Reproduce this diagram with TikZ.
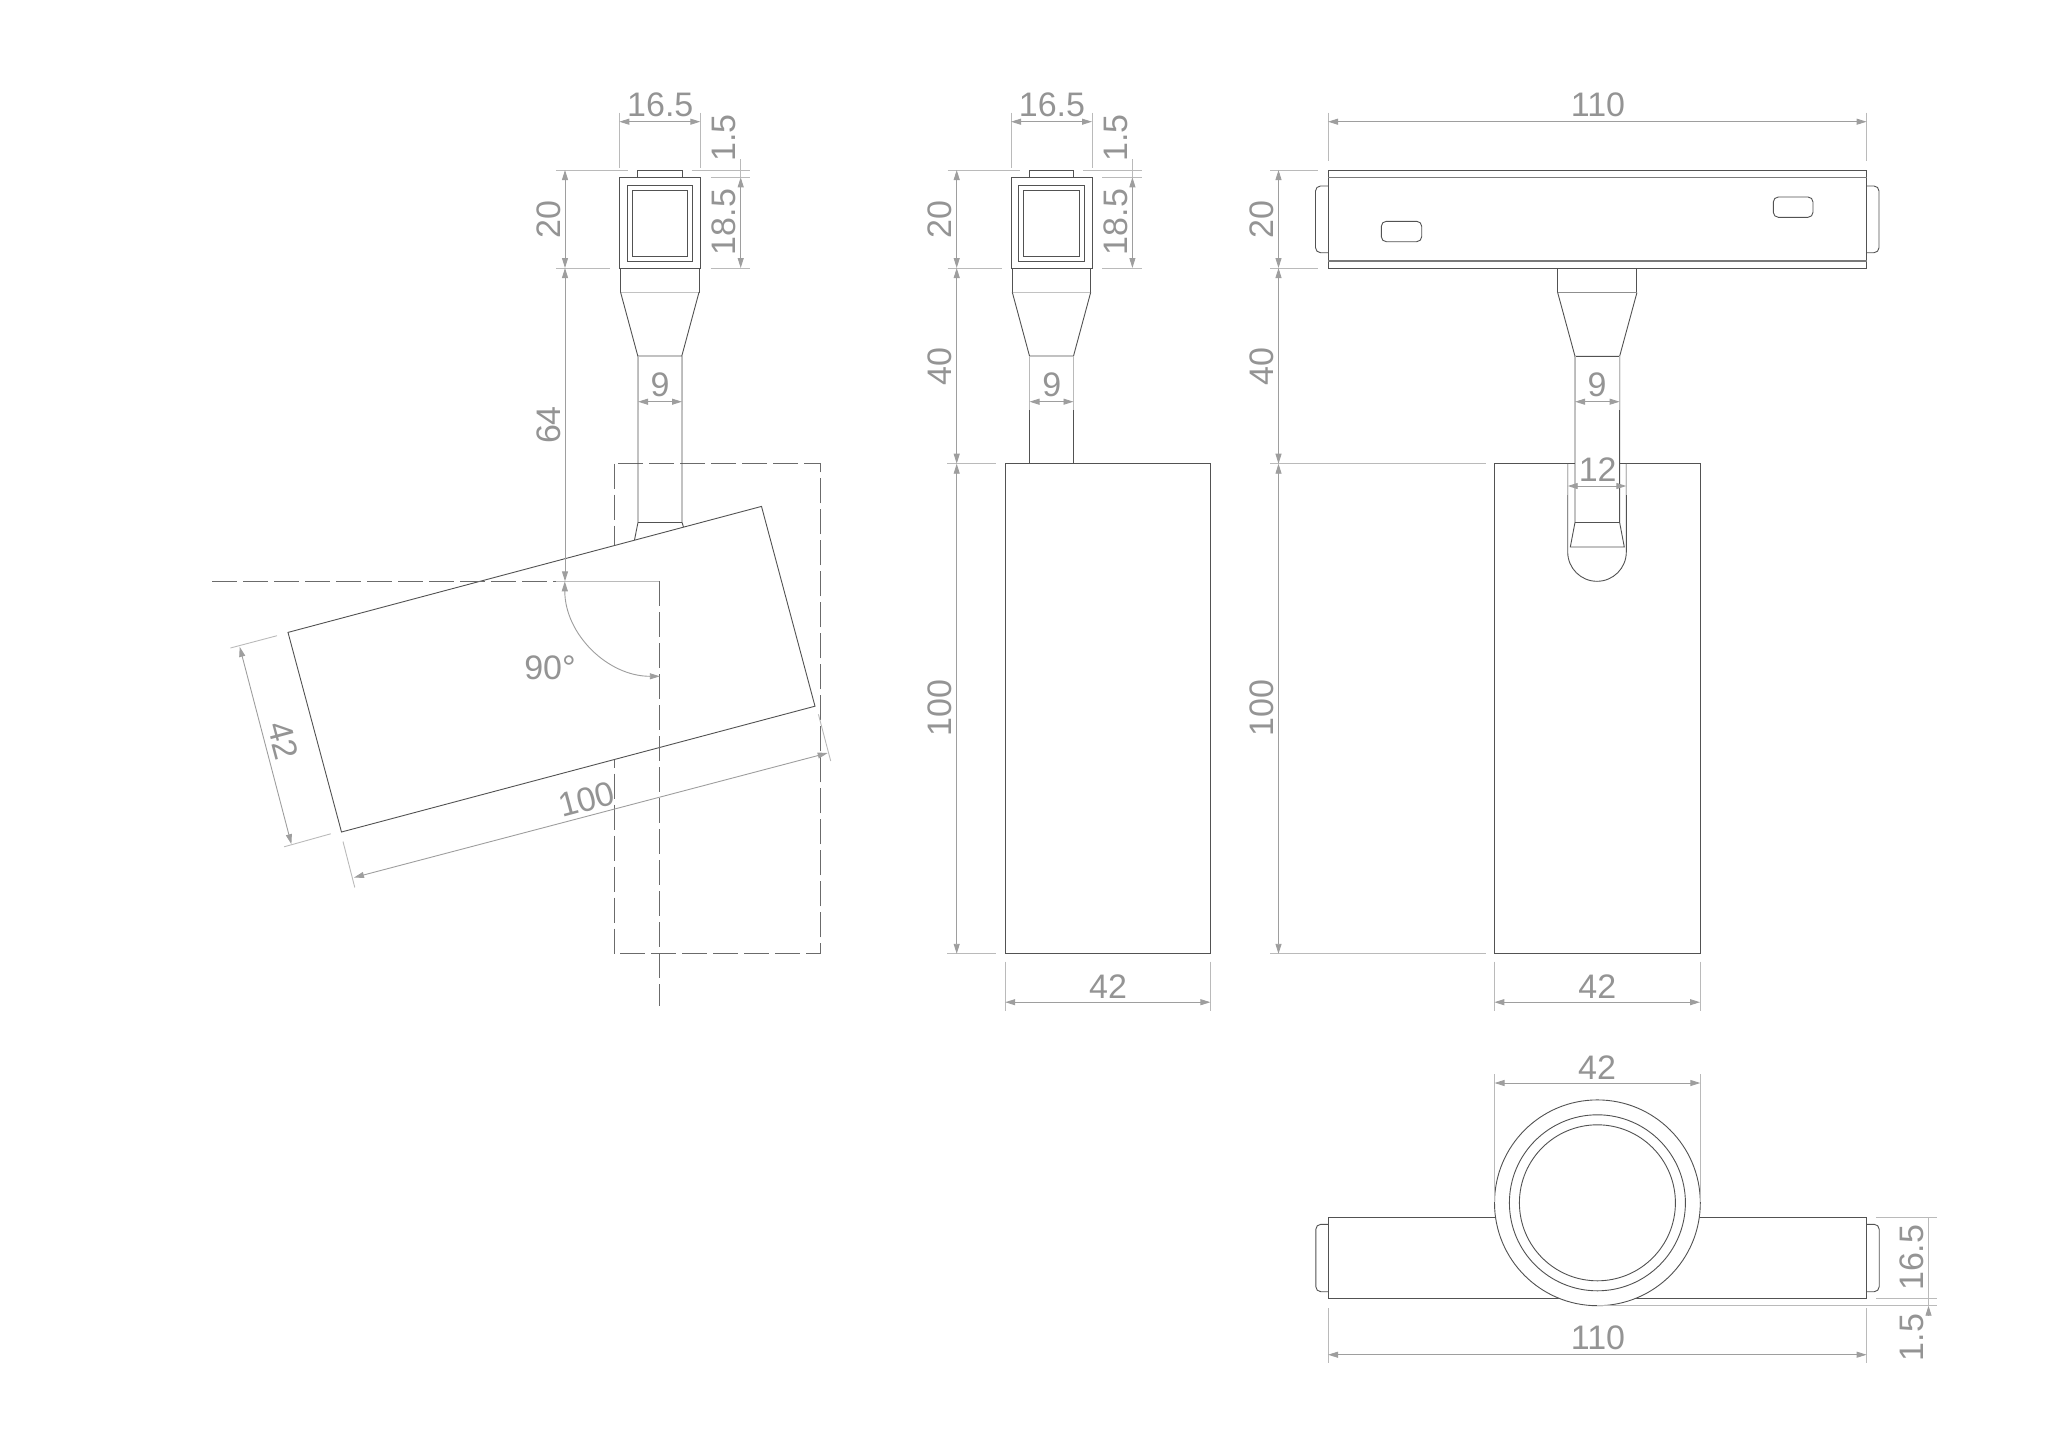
\documentclass[tikz,border=0pt]{standalone}
\usepackage{fontspec}
\setmainfont{Liberation Sans}
\usetikzlibrary{arrows.meta}

\begin{document}
\begin{tikzpicture}[x=1pt,y=-1pt,>={Triangle[length=10pt,width=6pt]},
                    outline/.style={draw=black!68,line width=0.9pt,fill=white,line join=miter},
                    heavy line/.style={draw=black!52,line width=1.8pt},
                    hidden line/.style={draw=black!58,line width=0.9pt,dash pattern=on 25pt off 6pt},
                    ext line/.style={draw=black!27,line width=0.9pt},
                    dim line/.style={draw=black!26,line width=0.9pt,<->,color=black!38},
                    dim text/.style={text=black!42,font=\fontsize{34}{38}\selectfont,inner sep=0pt}]

  \useasboundingbox (0,0) rectangle (2048,1448);

  % swung position, hidden outline first
  \draw[hidden line] (614.1,463.7) rectangle (820.5,953.8);

  % side views, same head twice
  \foreach \cx/\nm in {659.8/a,1051.5/b} {
    \begin{scope}[shift={(\cx,0)}]
      \draw[outline] (-22.2,170) rectangle (22.2,177.3);
      \draw[outline] (-40.5,177.3) rectangle (40.5,268);
      \draw[outline] (-32.8,185.3) rectangle (32.8,261.3);
      \draw[outline] (-27.8,190) rectangle (27.8,256.3);
      \draw[outline] (-39.2,268) rectangle (39.2,292.3);
      \draw[outline] (-39.2,292.3) -- (-22,356) -- (22,356) -- (39.2,292.3);

      % dimensions of the head
      \draw[ext line] (-40.5,112.7) -- (-40.5,167.7);
      \draw[ext line] (40.5,112.7) -- (40.5,167.7);
      \draw[dim line] (-40.5,121.7) -- (40.5,121.7);
      \node[dim text] (w\nm) at (0.5,104.7) {16.5};
      \draw[ext line] (-104,170) -- (-31.5,170);
      \draw[ext line] (-104,268) -- (-49.8,268);
      \draw[ext line] (31.9,170) -- (90.2,170);
      \draw[ext line] (50.9,177.3) -- (90.2,177.3);
      \draw[ext line] (50.9,268) -- (90.2,268);
      \draw[dim line] (-94.8,170) -- (-94.8,268);
      \node[dim text,rotate=90] (h\nm) at (-111.5,219.3) {20};
      \draw[ext line] (80.9,159) -- (80.9,177.3);
      \draw[dim line] (80.9,177.3) -- (80.9,268);
      \node[dim text,rotate=90] (c\nm) at (64.2,138) {1.5};
      \node[dim text,rotate=90] (d\nm) at (64.2,222) {18.5};
      \node[dim text] (s\nm) at (0.2,385) {9};
    \end{scope}
  }

  % left view: stem and tilted body
  \draw[outline,fill=none] (638,356) -- (638,522.3) -- (634.3,541);
  \draw[outline,fill=none] (682,356) -- (682,522.3) -- (683.5,527);
  \draw[outline] (638,522.3) -- (682,522.3);
  \draw[ext line] (638,356) -- (638,410);
  \draw[ext line] (682,356) -- (682,410);
  \draw[dim line] (638,401.7) -- (682,401.7);
  \draw[outline] (288,632.4) -- (761.5,506.4) -- (815,706.2) -- (341.5,832) -- cycle;
  \draw[hidden line] (212,581.3) -- (556,581.3);
  \draw[ext line] (556,581.3) -- (659.8,581.3);
  \draw[hidden line] (659.8,581.3) -- (659.8,1006.2);
  \draw[dim line] (565,268) -- (565,581.3);
  \node[dim text,rotate=90] (htotal) at (548.3,425) {64};
  \draw[dim line] (564.8,581.3) arc[start angle=180,end angle=270,radius=95pt];
  \node[dim text] (angle) at (550,667.5) {90°};

  \draw[ext line] (230.4,648) -- (277,635.7);
  \draw[ext line] (284.1,846.8) -- (330.7,833.8);
  \draw[dim line] (239.7,646.8) -- (291.4,844.2);
  \node[dim text,rotate=-75] (tiltw) at (283.4,740.7) {42};
  \draw[ext line] (343,841.5) -- (354.8,887.5);
  \draw[ext line] (818.4,714.3) -- (830.7,761);
  \draw[dim line] (354,877.5) -- (827.7,753);
  \node[dim text,rotate=15] (tiltl) at (586.6,799.3) {100};

  % middle view
  \draw[outline,fill=none] (1029.5,356) -- (1029.5,463.7);
  \draw[outline,fill=none] (1073.5,356) -- (1073.5,463.7);
  \draw[ext line] (1029.5,356) -- (1029.5,410);
  \draw[ext line] (1073.5,356) -- (1073.5,410);
  \draw[dim line] (1029.5,401.7) -- (1073.5,401.7);
  \draw[outline] (1005.2,463.7) rectangle (1210.4,953.8);
  \draw[ext line] (947,463.7) -- (996,463.7);
  \draw[ext line] (947,953.8) -- (996,953.8);
  \draw[dim line] (956.7,268) -- (956.7,463.7);
  \draw[dim line] (956.7,463.7) -- (956.7,953.8);
  \node[dim text,rotate=90] (hmidb) at (940,366.7) {40};
  \node[dim text,rotate=90] (hmidc) at (940,708.2) {100};
  \draw[ext line] (1005.2,961.7) -- (1005.2,1011.3);
  \draw[ext line] (1210.4,961.7) -- (1210.4,1011.3);
  \draw[dim line] (1005.2,1002.2) -- (1210.4,1002.2);
  \node[dim text] (wmid) at (1108,986.5) {42};

  % right view
  \draw[outline,rounded corners=5pt] (1328,186) -- (1315.5,186) -- (1315.5,252.7) -- (1328,252.7);
  \draw[outline,rounded corners=5pt] (1866.6,186) -- (1879,186) -- (1879,252.7) -- (1866.6,252.7);
  \draw[outline] (1328,170) rectangle (1866.6,268);
  \draw[heavy line] (1328,177.5) -- (1866.6,177.5);
  \draw[heavy line] (1328,261) -- (1866.6,261);
  \draw[outline,rounded corners=5pt] (1381.3,221.3) rectangle (1421.7,241.7);
  \draw[outline,rounded corners=5pt] (1773.3,197) rectangle (1813,217.3);
  \draw[outline] (1494.3,953.8) -- (1494.3,463.7) -- (1575,463.7);
  \draw[outline] (1700,953.8) -- (1700,463.7) -- (1619,463.7);
  \draw[outline,fill=none] (1494.3,953.8) -- (1700,953.8);
  \draw[outline,fill=none] (1567.7,463.7) -- (1567.7,552) arc[start angle=180,end angle=360,radius=29.3pt] -- (1626.3,463.7);
  \draw[outline] (1557.7,268) rectangle (1636.9,292.7);
  \draw[outline] (1557.7,292.7) -- (1575,356.3) -- (1619.6,356.3) -- (1636.9,292.7);
  \draw[outline,fill=none] (1575,356.3) -- (1575,522.3) -- (1570.3,547) -- (1624.3,547) -- (1619.6,522.3) -- (1619.6,356.3);
  \draw[outline,fill=none] (1575,522.3) -- (1619.6,522.3);

  \draw[ext line] (1328,112.7) -- (1328,160.7);
  \draw[ext line] (1866.6,112.7) -- (1866.6,160.7);
  \draw[dim line] (1328,121.7) -- (1866.6,121.7);
  \node[dim text] (wtop) at (1598,104.7) {110};
  \draw[ext line] (1270,170) -- (1318.4,170);
  \draw[ext line] (1270,268) -- (1318.4,268);
  \draw[ext line] (1270,463.7) -- (1485.5,463.7);
  \draw[ext line] (1270,953.8) -- (1485.5,953.8);
  \draw[dim line] (1278.5,170) -- (1278.5,268);
  \draw[dim line] (1278.5,268) -- (1278.5,463.7);
  \draw[dim line] (1278.5,463.7) -- (1278.5,953.8);
  \node[dim text,rotate=90] (hra) at (1262,219.3) {20};
  \node[dim text,rotate=90] (hrb) at (1262,366.7) {40};
  \node[dim text,rotate=90] (hrc) at (1262,708.2) {100};
  \draw[ext line] (1575,356.3) -- (1575,410);
  \draw[ext line] (1619.6,356.3) -- (1619.6,410);
  \draw[dim line] (1575,401.7) -- (1619.6,401.7);
  \node[dim text] (sr) at (1597,385) {9};
  \draw[ext line] (1567.7,463.7) -- (1567.7,495);
  \draw[ext line] (1626.3,463.7) -- (1626.3,495);
  \draw[dim line] (1567.7,486) -- (1626.3,486);
  \node[dim text] (slot) at (1597.7,470) {12};
  \draw[ext line] (1494.3,961.7) -- (1494.3,1011.3);
  \draw[ext line] (1700,961.7) -- (1700,1011.3);
  \draw[dim line] (1494.3,1002.2) -- (1700,1002.2);
  \node[dim text] (wbody) at (1597.3,986.5) {42};

  % bottom view
  \draw[outline,rounded corners=5pt] (1328,1224.3) -- (1315.8,1224.3) -- (1315.8,1291.7) -- (1328,1291.7);
  \draw[outline,rounded corners=5pt] (1866.6,1224.3) -- (1879.2,1224.3) -- (1879.2,1291.7) -- (1866.6,1291.7);
  \draw[outline] (1328,1217.3) rectangle (1866.6,1298.3);
  \draw[outline] (1597.4,1202.8) circle[radius=102.9pt];
  \draw[outline] (1597.4,1202.8) circle[radius=88pt];
  \draw[outline] (1597.4,1202.8) circle[radius=78pt];
  \draw[ext line] (1494.5,1074) -- (1494.5,1202);
  \draw[ext line] (1700.3,1074) -- (1700.3,1202);
  \draw[dim line] (1494.5,1083) -- (1700.3,1083);
  \node[dim text] (wcirc) at (1597,1067.7) {42};
  \draw[ext line] (1328,1308.3) -- (1328,1362.7);
  \draw[ext line] (1866.6,1308.3) -- (1866.6,1362.7);
  \draw[dim line] (1328,1354.7) -- (1866.6,1354.7);
  \node[dim text] (wbot) at (1598,1338) {110};
  \draw[ext line] (1876,1217.3) -- (1936.8,1217.3);
  \draw[ext line] (1876,1298.3) -- (1936.8,1298.3);
  \draw[ext line] (1597.4,1305.7) -- (1936.8,1305.7);
  \draw[ext line] (1928.5,1217.3) -- (1928.5,1306);
  \draw[draw=black!38,line width=0.9pt,<-] (1928.5,1305.7) -- (1928.5,1316);
  \node[dim text,rotate=90] (deep) at (1911.5,1257.8) {16.5};
  \node[dim text,rotate=90] (gap) at (1911.5,1337.5) {1.5};
\end{tikzpicture}
\end{document}
